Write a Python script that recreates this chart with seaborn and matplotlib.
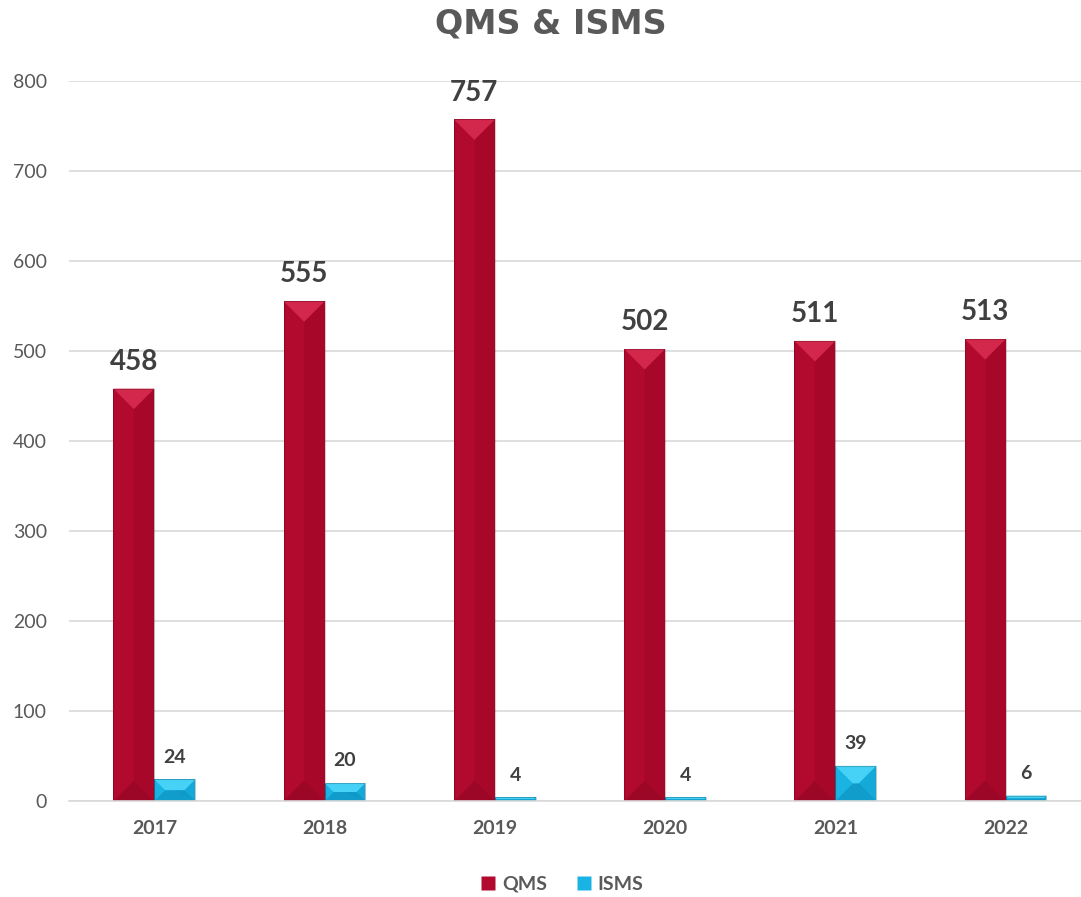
import pandas as pd
import matplotlib.pyplot as plt
import seaborn as sns
from matplotlib.patches import Polygon
from matplotlib.lines import Line2D

# Data
years = ["2017", "2018", "2019", "2020", "2021", "2022"]
qms = [458, 555, 757, 502, 511, 513]
isms = [24, 20, 4, 4, 39, 6]

red = "#B20A2F"
cyan = "#1AB4E4"
text_gray = "#595959"
label_gray = "#404040"

df = pd.DataFrame({
    "year": years * 2,
    "count": qms + isms,
    "system": ["QMS"] * len(years) + ["ISMS"] * len(years),
})

sns.set_style("white")
plt.rcParams["font.family"] = ["Lato", "DejaVu Sans"]

fig = plt.figure(figsize=(10.81, 8.97), dpi=100)
ax = fig.add_axes([0.064, 0.107, 0.945, 0.803])

sns.barplot(data=df, x="year", y="count", hue="system", palette=[red, cyan],
            width=0.48, saturation=1, linewidth=0, legend=False, ax=ax)

ax.set_ylim(0, 800)
ax.set_xlim(-0.5, 5.5)
ax.set_yticks(range(0, 801, 100))
ax.yaxis.grid(True, color="#D9D9D9", linewidth=1.2)
ax.set_axisbelow(True)
for s in ["top", "right", "left"]:
    ax.spines[s].set_visible(False)
ax.spines["bottom"].set_color("#D9D9D9")
ax.spines["bottom"].set_linewidth(1.2)
ax.set_xlabel("")
ax.set_ylabel("")
ax.tick_params(axis="y", length=0, pad=16, labelsize=14, labelcolor=text_gray)
ax.tick_params(axis="x", length=0, pad=14, labelsize=14, labelcolor=text_gray)
for t in ax.get_xticklabels():
    t.set_fontweight("bold")

# bevel shading, derived from the drawn bar rectangles
fig.canvas.draw()
px_per_y = ax.transData.transform((0, 1))[1] - ax.transData.transform((0, 0))[1]
px_per_x = ax.transData.transform((1, 0))[0] - ax.transData.transform((0, 0))[0]
shades = {red: ("#D3284C", "#9A0626", "#8E0522"), cyan: ("#45D2F6", "#0F9DCC", "#0C8FBC")}
for container, col in zip(ax.containers, [red, cyan]):
    top_c, side_c, bot_c = shades[col]
    for bar in container:
        x0, w, h = bar.get_x(), bar.get_width(), bar.get_height()
        d = (w * px_per_x / 2) / px_per_y
        dd = min(d, h / 2)
        cx = x0 + w / 2
        fx = w / 2 * dd / d
        # right face darker
        ax.add_patch(Polygon([(cx, dd), (x0 + w, 0), (x0 + w, h), (cx, h - dd)],
                             closed=True, color=side_c, lw=0, alpha=0.45))
        # top bevel
        ax.add_patch(Polygon([(x0, h), (x0 + w, h), (cx + w / 2 - fx, h - dd), (cx - w / 2 + fx, h - dd)],
                             closed=True, color=top_c, lw=0))
        # bottom bevel
        ax.add_patch(Polygon([(x0, 0), (x0 + w, 0), (cx + w / 2 - fx, dd), (cx - w / 2 + fx, dd)],
                             closed=True, color=bot_c, lw=0, alpha=0.6))
        ax.add_patch(plt.Rectangle((x0, 0), w, h, fill=False, ec="#00000030", lw=0.8))

ax.bar_label(ax.containers[0], padding=10, fontsize=20, fontweight="bold", color=label_gray)
ax.bar_label(ax.containers[1], padding=10, fontsize=14, fontweight="bold", color=label_gray)

fig.text(0.51, 0.973, "QMS & ISMS", ha="center", va="center", fontsize=24,
         fontweight="bold", color=text_gray, family=["DejaVu Sans"])

handles = [Line2D([], [], marker="s", color="none", markerfacecolor=c, markeredgecolor="none",
                  markersize=10) for c in [red, cyan]]
fig.legend(handles, ["QMS", "ISMS"], loc="center", bbox_to_anchor=(0.52, 0.014), ncol=2,
           frameon=False, handlelength=0.8, handletextpad=0.3, columnspacing=1.5,
           prop={"size": 14, "weight": "bold"}, labelcolor=text_gray)

fig.savefig("out.png", dpi=100)
